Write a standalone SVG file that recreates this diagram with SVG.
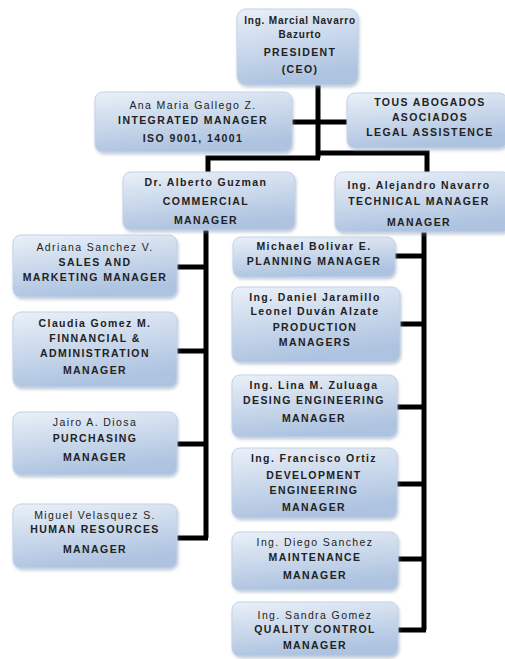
<svg xmlns="http://www.w3.org/2000/svg" width="505" height="659" viewBox="0 0 505 659">
<defs>
<linearGradient id="g" x1="0" y1="0" x2="0.3" y2="1">
<stop offset="0" stop-color="#eaf0f8"/>
<stop offset="1" stop-color="#adc3e0"/>
</linearGradient>
<filter id="sh" x="-10%" y="-10%" width="125%" height="130%">
<feDropShadow dx="1" dy="2" stdDeviation="1.5" flood-color="#8a9bb3" flood-opacity="0.5"/>
</filter>
</defs>
<style>
rect{fill:url(#g);stroke:#c3d3e8;stroke-width:1;filter:url(#sh)}
text{font-family:"Liberation Sans",Arial,sans-serif;font-size:10.5px;text-anchor:middle;fill:#222;letter-spacing:1.4px}
.t{font-weight:bold}
.s{font-size:10px;letter-spacing:0.8px}
.c path{fill:none;stroke:#000;stroke-width:5}
</style>
<rect width="505" height="659" fill="#fff" style="fill:#fff;stroke:none;filter:none"/>
<g class="c" id="connectors">
<path d="M318 85V158"/>
<path d="M292 122H347"/>
<path d="M208 173V158H320"/>
<path d="M318 153H427V173"/>
<path d="M206 230V538"/>
<path d="M177 267H208M177 351H208M177 444H208M177 538H208"/>
<path d="M424 232V630"/>
<path d="M395 256H426M400 324H426M397 407H426M397 484H426M397 559H426M397 630H426"/>
</g>
<g id="ceo"><rect x="237" y="9" width="121" height="76" rx="9"/>
<text x="300" y="24" class="t s">Ing. Marcial Navarro</text><text x="300" y="38" class="t s">Bazurto</text><text x="300" y="56" class="t">PRESIDENT</text><text x="300" y="73" class="t">(CEO)</text></g>
<g id="integrated"><rect x="95" y="92" width="197" height="60" rx="8"/>
<text x="193" y="109">Ana Maria Gallego Z.</text><text x="193" y="124" class="t">INTEGRATED  MANAGER</text><text x="193" y="142" class="t">ISO 9001,  14001</text></g>
<g id="legal"><rect x="347" y="93" width="160" height="55" rx="8"/>
<text x="430" y="106" class="t">TOUS ABOGADOS</text><text x="430" y="121" class="t">ASOCIADOS</text><text x="430" y="136" class="t">LEGAL ASSISTENCE</text></g>
<g id="commercial"><rect x="123" y="172" width="172" height="58" rx="8"/>
<text x="206" y="186" class="t">Dr. Alberto  Guzman</text><text x="206" y="205" class="t">COMMERCIAL</text><text x="206" y="224" class="t">MANAGER</text></g>
<g id="technical"><rect x="335" y="172" width="175" height="60" rx="8"/>
<text x="419" y="189" class="t">Ing. Alejandro Navarro</text><text x="419" y="205" class="t">TECHNICAL  MANAGER</text><text x="419" y="226" class="t">MANAGER</text></g>
<g id="sales"><rect x="13" y="235" width="164" height="62" rx="8"/>
<text x="95" y="251">Adriana  Sanchez V.</text><text x="95" y="266" class="t">SALES AND</text><text x="95" y="281" class="t">MARKETING MANAGER</text></g>
<g id="financial"><rect x="13" y="312" width="164" height="75" rx="8"/>
<text x="95" y="327" class="t">Claudia Gomez M.</text><text x="95" y="342" class="t">FINNANCIAL &amp;</text><text x="95" y="357" class="t">ADMINISTRATION</text><text x="95" y="374" class="t">MANAGER</text></g>
<g id="purchasing"><rect x="13" y="412" width="164" height="63" rx="8"/>
<text x="95" y="426">Jairo A. Diosa</text><text x="95" y="442" class="t">PURCHASING</text><text x="95" y="461" class="t">MANAGER</text></g>
<g id="hr"><rect x="13" y="504" width="164" height="64" rx="8"/>
<text x="95" y="519">Miguel Velasquez  S.</text><text x="95" y="533" class="t">HUMAN  RESOURCES</text><text x="95" y="553" class="t">MANAGER</text></g>
<g id="planning"><rect x="233" y="237" width="162" height="40" rx="8"/>
<text x="314" y="250" class="t">Michael Bolivar E.</text><text x="314" y="265" class="t">PLANNING  MANAGER</text></g>
<g id="production"><rect x="232" y="287" width="168" height="75" rx="8"/>
<text x="315" y="301" class="t">Ing. Daniel Jaramillo</text><text x="315" y="315" class="t">Leonel Duván Alzate</text><text x="315" y="331" class="t">PRODUCTION</text><text x="315" y="346" class="t">MANAGERS</text></g>
<g id="design"><rect x="232" y="375" width="165" height="62" rx="8"/>
<text x="314" y="389" class="t">Ing. Lina M. Zuluaga</text><text x="314" y="404" class="t">DESING ENGINEERING</text><text x="314" y="422" class="t">MANAGER</text></g>
<g id="development"><rect x="232" y="448" width="165" height="70" rx="8"/>
<text x="314" y="462" class="t">Ing. Francisco Ortiz</text><text x="314" y="479" class="t">DEVELOPMENT</text><text x="314" y="494" class="t">ENGINEERING</text><text x="314" y="511" class="t">MANAGER</text></g>
<g id="maintenance"><rect x="232" y="532" width="166" height="58" rx="8"/>
<text x="315" y="546">Ing. Diego Sanchez</text><text x="315" y="561" class="t">MAINTENANCE</text><text x="315" y="579" class="t">MANAGER</text></g>
<g id="quality"><rect x="232" y="602" width="166" height="54" rx="8"/>
<text x="315" y="619">Ing. Sandra  Gomez</text><text x="315" y="633" class="t">QUALITY CONTROL</text><text x="315" y="649" class="t">MANAGER</text></g>
</svg>
